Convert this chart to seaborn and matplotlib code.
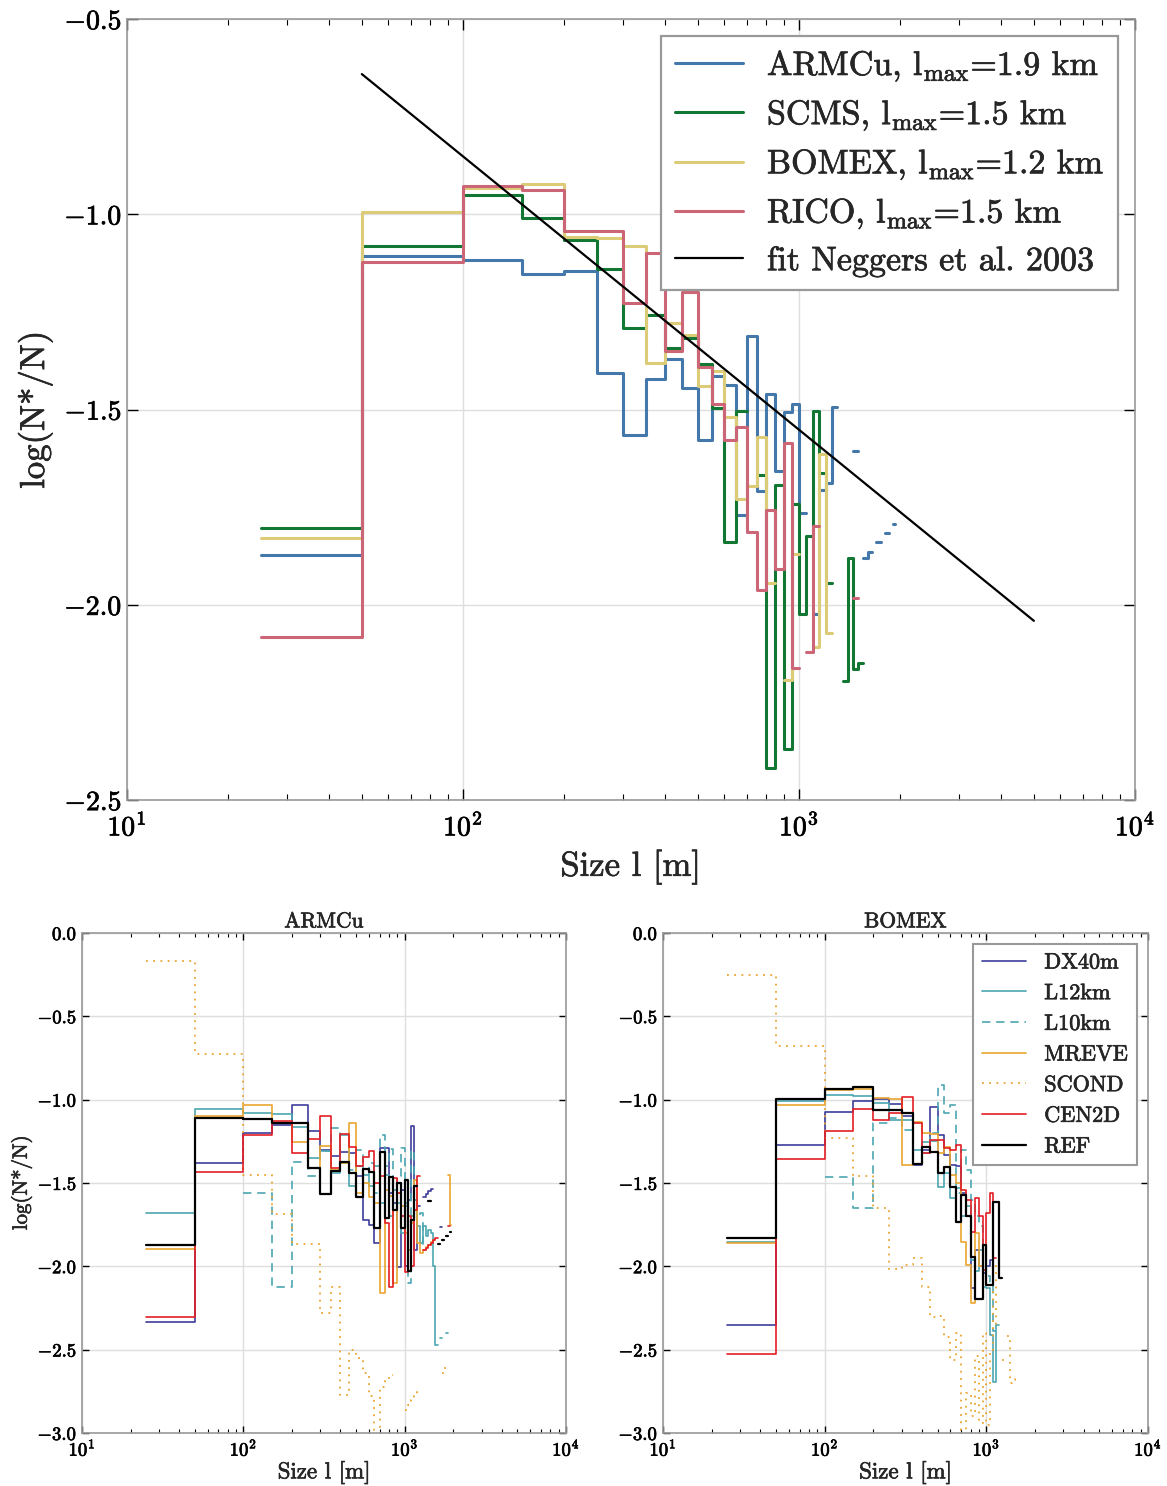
import numpy as np
import matplotlib
matplotlib.use("Agg")
import matplotlib.pyplot as plt
import matplotlib.patheffects as pe
from matplotlib.text import Text
from matplotlib.ticker import FuncFormatter, MultipleLocator
import seaborn as sns

# bin centres (50 m bins, first bin starts at 25 m)
size_bins = [25, 75, 125, 175, 225, 275, 325, 375, 425, 475, 525, 575, 625, 675,
             725, 775, 825, 875, 925, 975, 1025, 1075, 1125, 1175, 1225, 1275,
             1325, 1375, 1425, 1475, 1525, 1575, 1625, 1675, 1725, 1775, 1825,
             1875, 1925]

# ---- top panel: log(N*/N) per case (None = empty bin)
armcu_top = [-1.873, -1.106, -1.116, -1.152, -1.146, -1.407, -1.564, -1.423, -1.370, -1.446,
             -1.577, -1.413, -1.436, -1.769, -1.312, -1.709, -1.460, -1.658, -1.507, -1.485,
             -1.764, None, -2.024, -1.705, -1.688, -1.493, None, None, None, -1.607,
             None, -1.879, -1.865, None, -1.839, None, -1.815, None, -1.792]
scms_top = [-1.804, -1.082, -0.950, -1.010, -1.065, -1.140, -1.291, -1.257, -1.342, -1.317,
            -1.384, -1.496, -1.839, -1.504, None, -1.667, -2.419, -1.692, -2.370, -1.743,
            -2.023, -1.825, -1.504, -1.663, -1.945, None, None, -2.195, -1.879, -2.165, -2.148]
bomex_top = [-1.828, -0.994, -0.933, -0.923, -1.058, -1.060, -1.081, -1.382, -1.278, -1.308,
             -1.440, -1.402, -1.519, -1.728, -1.696, -1.571, -1.943, None, -2.193, -1.871,
             None, None, -2.109, -1.615, -2.071]
rico_top = [-2.082, -1.123, -0.927, -0.937, -1.044, -1.042, -1.226, -1.100, -1.349, -1.200,
            -1.390, -1.487, -1.577, -1.544, -1.813, -1.961, -1.757, -1.909, -1.585, -2.163,
            None, -2.121, -1.799, None, None, None, None, None, None, -1.983]
top_labels = [r"ARMCu, l$_{\rm max}$=1.9 km", r"SCMS, l$_{\rm max}$=1.5 km",
              r"BOMEX, l$_{\rm max}$=1.2 km", r"RICO, l$_{\rm max}$=1.5 km"]
top_colors = ["#4477AA", "#117733", "#DDCC77", "#CC6677"]

fit_sizes = [50, 5000]
fit_logn = [-0.641, -2.041]

# ---- bottom left: ARMCu sensitivity runs
ref_a = [-1.872, -1.108, -1.118, -1.142, -1.142, -1.408, -1.566, -1.426, -1.372, -1.442,
         -1.582, -1.416, -1.436, -1.772, -1.314, -1.712, -1.462, -1.660, -1.500, -1.770,
         -1.480, -2.030, -1.720, -1.520, None, None, None, None, -1.606, None,
         None, None, -1.868, None, -1.842, None, -1.818, None, -1.792]
dx40_a = [-2.336, -1.378, -1.198, -1.150, -1.032, -1.188, -1.300, -1.340, -1.312, -1.320,
          -1.460, -1.722, -1.752, -1.862, -1.292, -1.292, -1.560, -1.620, -2.002, -1.540,
          -2.000, -1.600, -1.158, -1.902, -1.640, None, -1.582, -1.566, -1.550, -1.534,
          None, None, None, -1.762]
l12_a = [-1.682, -1.058, -1.082, -1.086, -1.166, -1.352, -1.308, -1.440, -1.210, -1.520,
         -1.400, -1.450, -1.520, -1.400, -1.620, -1.450, -1.700, -1.540, -1.620, -1.800,
         -1.640, -1.900, -1.700, -1.600, -1.760, -1.860, -1.760, -1.820, -1.780, -1.800,
         -2.000, -2.472, None, -2.432, None, None, -2.398]
l10_a = [None, None, -1.558, -2.122, -1.372, -1.456, -1.310, -1.172, -1.380, -1.420,
         -1.300, -1.460, -1.380, -1.560, -1.212, -1.400, -1.298, -1.520, -1.460, -1.292,
         -1.620, -2.100, -1.300, -1.640, -1.700, -1.682, -1.900]
mreve_a = [-1.896, -1.096, -1.032, -1.140, -1.256, -1.408, -1.276, -1.420, -1.380, -1.142,
           -1.560, -1.500, -1.582, -1.620, -2.162, -1.540, -1.580, -2.100, -1.560, -1.640,
           -1.800, -1.900, -1.740, -1.480, -1.860, -1.920, -1.900, -1.885, -1.870, -1.855,
           -1.840, None, None, None, None, None, None, -1.452, -1.752]
scond_a = [-0.166, -0.728, -1.452, -1.688, -1.868, -1.868, -2.282, -2.126, -2.772, -2.502,
           -2.552, -2.638, -2.780, -3.300, -2.722, -2.690, -2.652, None, None, None,
           -2.862, -2.830, -2.800, -2.778, -2.752, None, None, None, None, None,
           None, None, None, None, -2.640, -2.612]
cen_a = [-2.302, -1.432, -1.212, -1.126, -1.322, -1.238, -1.096, -1.412, -1.208, -1.282,
         -1.400, -1.342, -1.306, -1.500, -1.460, -1.740, -2.122, -1.470, -1.560, -1.700,
         -2.032, -1.700, -2.000, -1.660, -1.456, None, -1.905, -1.890, -1.875, -1.860,
         -1.845, -1.830, None, None, None, None, None, -1.756]

# ---- bottom right: BOMEX sensitivity runs
ref_b = [-1.832, -0.998, -0.938, -0.922, -1.062, -1.062, -1.082, -1.388, -1.282, -1.312,
         -1.438, -1.402, -1.522, -1.732, -1.572, -1.700, -1.946, -2.198, -2.198, -1.872,
         -2.112, -2.112, -1.612, -1.612, -2.072]
dx40_b = [-2.352, -1.272, -1.072, -1.010, -0.998, -1.026, -1.100, -1.392, -1.300, -1.046,
          -1.212, -1.332, -1.392, -1.400, -1.560, -1.700, -2.132, -1.900, -2.000, -2.040,
          -2.000, -1.960]
l12_b = [-1.852, -1.006, -0.972, -0.980, -1.020, -1.122, -1.120, -1.388, -1.252, -1.250,
         -1.526, -1.440, -1.592, -1.530, -1.700, -1.640, -1.962, -2.030, -1.900, -2.122,
         -2.130, -2.412, -2.692, -2.352]
l10_b = [None, None, -1.462, -1.652, -1.138, -1.110, -1.180, -1.300, -1.320, -1.200,
         -0.912, -1.082, -1.032, -1.562, -1.302, -1.420, -1.600, -1.700, -1.760, -1.900,
         -2.060, -2.100, -2.390]
mreve_b = [-1.862, -1.032, -0.942, -0.938, -0.990, -0.998, -1.392, -1.132, -1.200, -1.206,
           -1.320, -1.282, -1.452, -1.500, -1.852, -1.992, -2.218, -1.800, -2.000]
scond_b = [-0.252, -0.678, -1.228, -1.458, -1.652, -2.018, -1.990, -1.950, -2.122, -2.302,
           -2.300, -2.422, -2.560, -2.400, -2.980, -2.760, -2.900, -2.540, -2.940, -2.400,
           -2.950, -2.500, -2.000, -2.360, None, -2.560, None, -2.420, -2.700, -2.680, -2.660]
cen_b = [-2.528, -1.356, -1.186, -1.058, -1.122, -1.082, -0.982, -1.142, -1.322, -1.242,
         -1.240, -1.292, -1.300, -1.272, -1.542, -1.600, -1.792, -1.592, -1.700, -2.022,
         -1.682, -1.560, -1.952]

run_labels = ["DX40m", "L12km", "L10km", "MREVE", "SCOND", "CEN2D", "REF"]
run_colors = ["#3D3D9B", "#4CA6B0", "#4CA6B0", "#E9A530", "#E9A530", "#E31E24", "black"]
run_styles = ["-", "-", (0, (5, 3.5)), "-", (0, (1, 3)), "-", "-"]
run_widths = [1.2, 1.2, 1.2, 1.2, 1.3, 1.2, 1.6]


def as_series(vals):
    # pad missing upper bins with NaN (empty bins)
    out = np.full(len(size_bins), np.nan)
    out[:len(vals)] = np.array(vals, dtype=float)
    return out


sns.set_theme(style="whitegrid")
plt.rcParams.update({
    "font.family": ["cmr10", "DejaVu Serif"],
    "mathtext.fontset": "cm",
    "axes.formatter.use_mathtext": True,
    "axes.edgecolor": "0.6",
    "axes.linewidth": 1.2,
    "grid.color": "#dedede",
    "grid.linewidth": 1.0,
    "xtick.direction": "in",
    "ytick.direction": "in",
    "xtick.color": "black",
    "ytick.color": "black",
})

fmt_y = FuncFormatter(lambda v, _: ("$%.1f$" % v).replace("-0.0", "0.0"))


def style_axes(ax, ymin, ymax, tick_size, major_len, minor_len, xpad):
    ax.set_xscale("log")
    ax.set_xlim(10, 1e4)
    ax.set_ylim(ymin, ymax)
    ax.yaxis.set_major_locator(MultipleLocator(0.5))
    ax.yaxis.set_major_formatter(fmt_y)
    ax.tick_params(which="both", top=True, right=True, bottom=True, left=True,
                   labelsize=tick_size, color="black")
    ax.tick_params(which="major", length=major_len, width=1.0)
    ax.tick_params(which="minor", length=minor_len, width=0.8)
    ax.tick_params(axis="x", which="major", pad=xpad)
    ax.grid(True, which="major")
    ax.grid(False, which="minor")


fig = plt.figure(figsize=(11.67, 14.86), dpi=100)

# ---------------- top panel
ax = fig.add_axes([0.1088, 0.4616, 0.8638, 0.5256])
for vals, lab, col in zip([armcu_top, scms_top, bomex_top, rico_top], top_labels, top_colors):
    ax.plot(size_bins, as_series(vals), drawstyle="steps-mid", color=col, lw=2.2, label=lab)
sns.lineplot(x=fit_sizes, y=fit_logn, ax=ax, color="black", lw=1.6,
             label="fit Neggers et al. 2003")
style_axes(ax, -2.5, -0.5, 20, 8, 4, 9)
ax.set_xlabel("Size l [m]", fontsize=25, labelpad=6)
ax.set_ylabel("log(N*/N)", fontsize=25, labelpad=8)
leg = ax.legend(loc="upper right", fontsize=24.5, fancybox=False, framealpha=1,
                edgecolor="0.6", labelspacing=0.45, borderaxespad=0.5, handletextpad=0.7)
leg.get_frame().set_linewidth(1.6)

# ---------------- bottom panels
panels = [
    ("ARMCu", [0.0703, 0.0357, 0.4147, 0.3365],
     [dx40_a, l12_a, l10_a, mreve_a, scond_a, cen_a, ref_a]),
    ("BOMEX", [0.5681, 0.0357, 0.4156, 0.3365],
     [dx40_b, l12_b, l10_b, mreve_b, scond_b, cen_b, ref_b]),
]
for k, (title, rect, runs) in enumerate(panels):
    bx = fig.add_axes(rect)
    for vals, lab, col, ls, lw in zip(runs, run_labels, run_colors, run_styles, run_widths):
        bx.plot(size_bins, as_series(vals), drawstyle="steps-mid", color=col,
                ls=ls, lw=lw, label=lab)
    style_axes(bx, -3.0, 0.0, 13.5, 5, 3, 4)
    bx.set_title(title, fontsize=15.5, pad=4)
    bx.set_xlabel("Size l [m]", fontsize=16.5, labelpad=2)
    if k == 0:
        bx.set_ylabel("log(N*/N)", fontsize=15)
    else:
        lg = bx.legend(loc="upper right", fontsize=16, fancybox=False, framealpha=1,
                       edgecolor="0.6", labelspacing=0.5, borderaxespad=0.5)
        lg.get_frame().set_linewidth(1.5)

# the reference text is a little heavier than plain cmr10
fig.canvas.draw()
for t in fig.findobj(Text):
    if t.get_text():
        t.set_path_effects([pe.withStroke(linewidth=0.5, foreground=t.get_color())])

fig.savefig("out.png", dpi=100)
